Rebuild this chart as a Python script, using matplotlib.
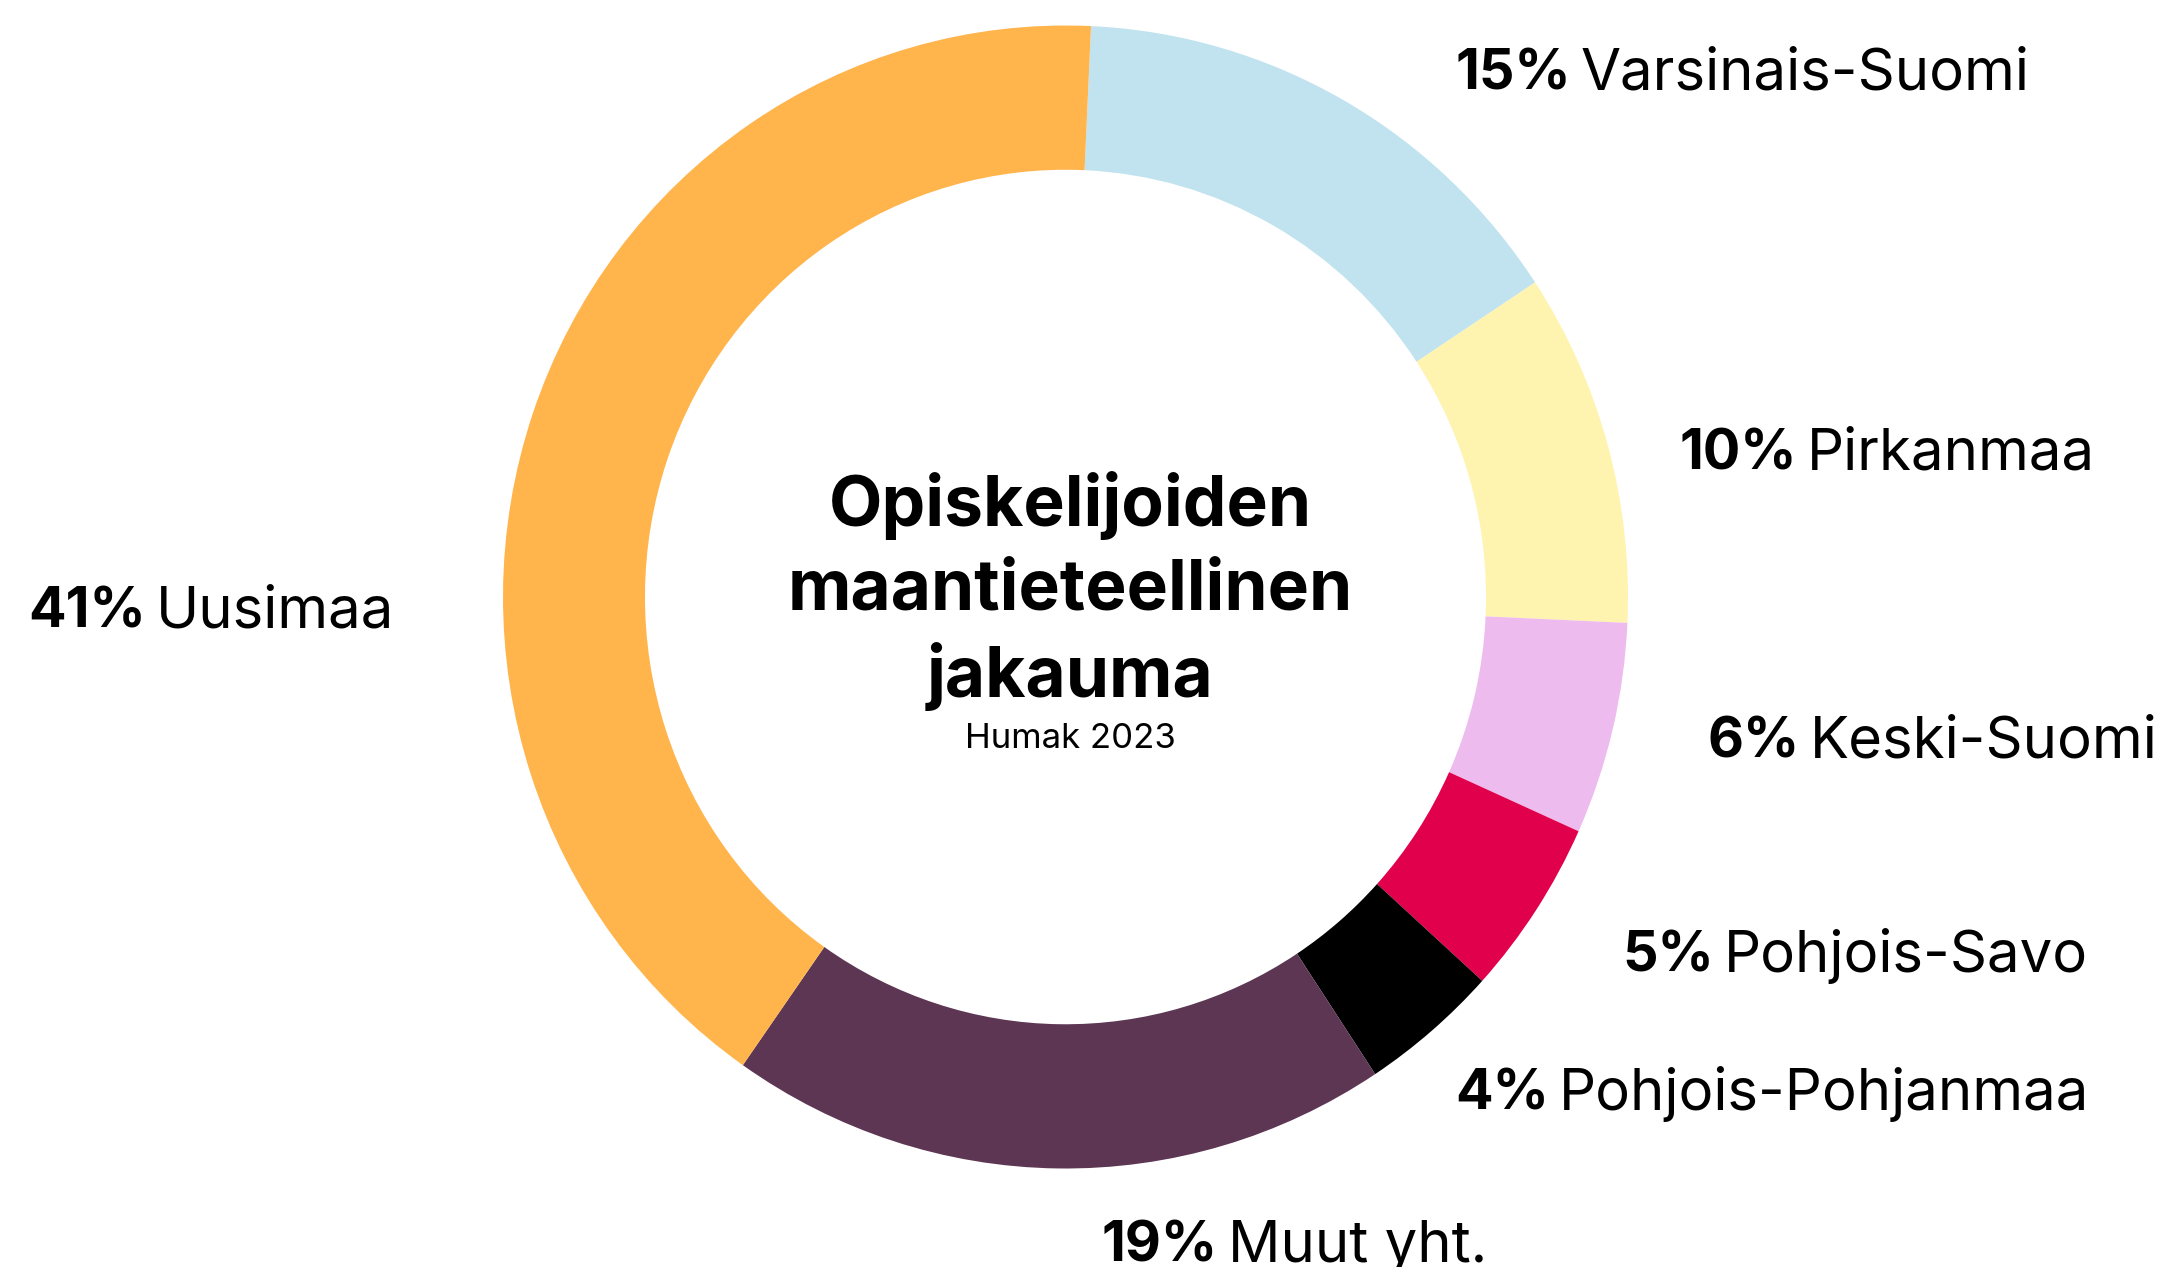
import matplotlib
matplotlib.use("Agg")
import matplotlib.pyplot as plt

# data, clockwise from the top
regions = ["Varsinais-Suomi", "Pirkanmaa", "Keski-Suomi", "Pohjois-Savo",
           "Pohjois-Pohjanmaa", "Muut yht.", "Uusimaa"]
shares = [15, 10, 6, 5, 4, 19, 41]
colors = ["#C0E3EF", "#FFF3B0", "#EEBBEE", "#E1004C", "#000000", "#5D3653", "#FFB44C"]

title_lines = ["Opiskelijoiden", "maantieteellinen", "jakauma"]
subtitle = "Humak 2023"

# label anchor (left x, baseline y) in pixels of the output image
label_pos = {
    "Varsinais-Suomi": (1455, 89),
    "Pirkanmaa": (1679, 469),
    "Keski-Suomi": (1708, 757),
    "Pohjois-Savo": (1622, 972),
    "Pohjois-Pohjanmaa": (1455, 1110),
    "Muut yht.": (1102, 1262),
    "Uusimaa": (28, 627),
}

W, H = 2161, 1267
plt.rcParams["font.family"] = ["Inter", "DejaVu Sans"]

fig = plt.figure(figsize=(W / 100, H / 100), dpi=100)
# donut box: x 503..1628, y 25.5..1168.5 (image pixels)
ax = fig.add_axes([503 / W, 1 - 1168.5 / H, 1125 / W, 1143 / H])
ax.pie(shares, colors=colors, startangle=87.4, counterclock=False,
       radius=1, wedgeprops=dict(width=0.2524, linewidth=0))
ax.set_aspect("auto")
ax.set_xlim(-1, 1)
ax.set_ylim(-1, 1)
ax.axis("off")

# centre title
baselines = [526, 610, 697]
for line, yb in zip(title_lines, baselines):
    fig.text(1070 / W, 1 - yb / H, line, ha="center", va="baseline",
             fontsize=50, fontweight="bold", color="black")
fig.text(1070 / W, 1 - 748 / H, subtitle, ha="center", va="baseline",
         fontsize=25, color="black")

fig.canvas.draw()
renderer = fig.canvas.get_renderer()
for name, val in zip(regions, shares):
    x, y = label_pos[name]
    t = fig.text(x / W, 1 - y / H, f"{val}%", ha="left", va="baseline",
                 fontsize=40, fontweight="bold", color="black")
    bb = t.get_window_extent(renderer)
    fig.text((bb.x1 + 10) / W, 1 - y / H, name, ha="left", va="baseline",
             fontsize=41.8, color="black")

fig.savefig("out.png", dpi=100, facecolor="white")
